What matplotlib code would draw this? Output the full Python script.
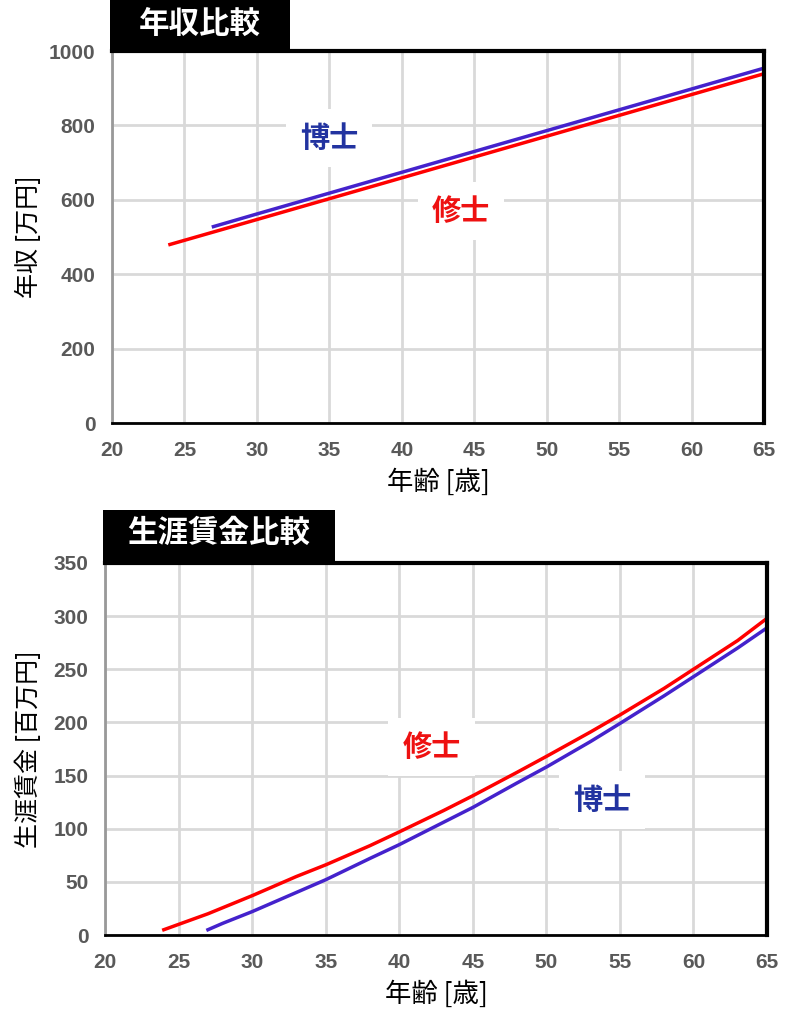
import matplotlib
matplotlib.use("Agg")
import matplotlib.pyplot as plt
from matplotlib.patches import Rectangle

plt.rcParams['font.family'] = ['Noto Sans CJK JP', 'DejaVu Sans']

# 年収 [万円]
ages_master = [24, 30, 35, 40, 45, 50, 55, 60, 65]
income_master = [480, 547, 603, 659, 715, 771, 827, 883, 939]
ages_doctor = [27, 30, 35, 40, 45, 50, 55, 60, 65]
income_doctor = [528, 562, 618, 674, 730, 786, 842, 898, 954]

# 生涯賃金 [百万円]
ages_life_master = [24, 25, 26, 27, 30, 33, 35, 38, 40, 43, 45, 48, 50, 53, 55, 58, 60, 63, 65]
life_master = [5, 10, 15, 20, 37, 55, 66, 84, 97, 117, 131, 153, 168, 191, 207, 232, 250, 277, 298]
ages_life_doctor = [27, 28, 30, 33, 35, 38, 40, 43, 45, 48, 50, 53, 55, 58, 60, 63, 65]
life_doctor = [5, 11, 22, 40, 52, 72, 85, 106, 120, 143, 158, 182, 199, 225, 243, 270, 289]

xticks = list(range(20, 70, 5))

RED = '#ff0000'
BLUE = '#4422cc'
LBL_RED = '#ee1111'
LBL_BLUE = '#2233a0'
TICK = '#595959'

fig = plt.figure(figsize=(7.91, 10.21), dpi=100)


def style(ax, ymax, ystep):
    ax.set_xlim(20, 65)
    ax.set_ylim(0, ymax)
    ax.set_xticks(xticks)
    ax.set_yticks(range(0, ymax + 1, ystep))
    ax.grid(True, color='#d9d9d9', linewidth=2)
    ax.set_axisbelow(True)
    for s in ['top', 'right']:
        ax.spines[s].set_color('black')
        ax.spines[s].set_linewidth(3)
    ax.spines['bottom'].set_color('black')
    ax.spines['bottom'].set_linewidth(2)
    ax.spines['left'].set_color('#999999')
    ax.spines['left'].set_linewidth(2)
    ax.tick_params(length=0, labelsize=15, labelcolor=TICK)
    ax.tick_params(axis='x', pad=13)
    ax.tick_params(axis='y', pad=12)
    for lab in ax.get_xticklabels() + ax.get_yticklabels():
        lab.set_fontweight('bold')
        lab.set_family(['Liberation Sans', 'DejaVu Sans'])


def label(ax, x, y, text, color):
    ax.text(x, y, text, color=color, fontsize=21, fontweight='bold',
            ha='center', va='center',
            bbox=dict(facecolor='white', edgecolor='none', pad=10))


# 上段: 年収比較
ax1 = fig.add_axes([0.1416, 0.5857, 0.8243, 0.3643])
ax1.plot(ages_master, income_master, color=RED, linewidth=2.5)
ax1.plot(ages_doctor, income_doctor, color=BLUE, linewidth=2.5)
style(ax1, 1000, 200)
ax1.set_xlabel('年齢 [歳]', fontsize=19, labelpad=6)
ax1.set_ylabel('年収 [万円]', fontsize=18, labelpad=5)
label(ax1, 35.0, 765, '博士', LBL_BLUE)
label(ax1, 44.1, 570, '修士', LBL_RED)

# 下段: 生涯賃金比較
ax2 = fig.add_axes([0.1327, 0.0842, 0.837, 0.3644])
ax2.plot(ages_life_master, life_master, color=RED, linewidth=2.5)
ax2.plot(ages_life_doctor, life_doctor, color=BLUE, linewidth=2.5)
style(ax2, 350, 50)
ax2.set_xlabel('年齢 [歳]', fontsize=19, labelpad=6)
ax2.set_ylabel('生涯賃金 [百万円]', fontsize=18, labelpad=8)
label(ax2, 42.2, 177, '修士', LBL_RED)
label(ax2, 53.8, 127, '博士', LBL_BLUE)

# タイトルボックス
fig.patches.append(Rectangle((0.139, 0.95), 0.2276, 0.05, transform=fig.transFigure,
                             facecolor='black', edgecolor='none', zorder=5))
fig.text(0.253, 0.977, '年収比較', color='white', fontsize=22, fontweight='bold',
         ha='center', va='center', zorder=6)
fig.patches.append(Rectangle((0.130, 0.4486), 0.293, 0.052, transform=fig.transFigure,
                             facecolor='black', edgecolor='none', zorder=5))
fig.text(0.277, 0.478, '生涯賃金比較', color='white', fontsize=22, fontweight='bold',
         ha='center', va='center', zorder=6)

fig.savefig('out.png', dpi=100)
